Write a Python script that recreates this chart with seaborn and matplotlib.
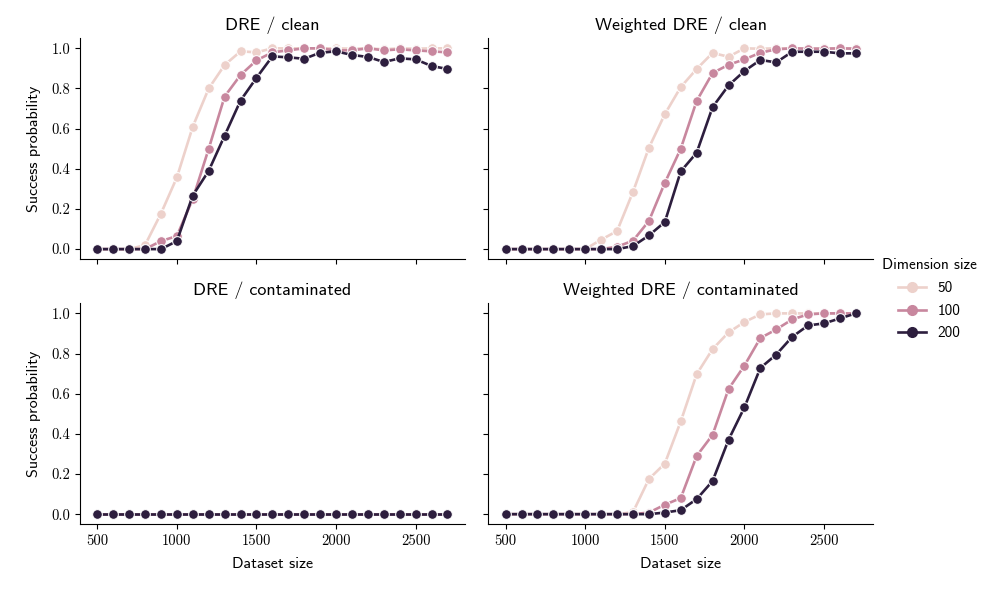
import pandas as pd
import numpy as np
import matplotlib
matplotlib.use('Agg')
import matplotlib.pyplot as plt
import seaborn as sns

# Dataset sizes (x axis)
dataset_sizes = list(range(500, 2800, 100))
dims = [50, 100, 200]

# Success probabilities
dre_clean_50 = [0, 0, 0, 0.02, 0.177, 0.357, 0.61, 0.80, 0.917, 0.985, 0.98, 1.0,
                1.0, 1.0, 1.0, 1.0, 0.998, 1.0, 0.995, 1.0, 0.998, 1.0, 1.0]
dre_clean_100 = [0, 0, 0, 0, 0.04, 0.065, 0.25, 0.50, 0.76, 0.867, 0.94, 0.98,
                 0.99, 1.0, 1.0, 0.99, 0.99, 1.0, 0.99, 0.995, 0.99, 0.985, 0.98]
dre_clean_200 = [0, 0, 0, 0, 0, 0.04, 0.267, 0.39, 0.565, 0.74, 0.853, 0.96,
                 0.955, 0.948, 0.978, 0.985, 0.967, 0.957, 0.932, 0.95, 0.945, 0.912, 0.897]

wdre_clean_50 = [0, 0, 0, 0, 0, 0, 0.047, 0.09, 0.285, 0.505, 0.672, 0.807,
                 0.897, 0.977, 0.958, 1.0, 0.998, 1.0, 1.0, 1.0, 1.0, 1.0, 1.0]
wdre_clean_100 = [0, 0, 0, 0, 0, 0, 0, 0.012, 0.042, 0.14, 0.33, 0.50,
                  0.738, 0.877, 0.918, 0.945, 0.978, 0.995, 1.0, 0.998, 0.998, 1.0, 0.998]
wdre_clean_200 = [0, 0, 0, 0, 0, 0, 0, 0, 0.015, 0.068, 0.135, 0.387,
                  0.48, 0.707, 0.815, 0.887, 0.942, 0.93, 0.983, 0.983, 0.983, 0.975, 0.975]

dre_cont_50 = [0] * 23
dre_cont_100 = [0] * 23
dre_cont_200 = [0] * 23

wdre_cont_50 = [0, 0, 0, 0, 0, 0, 0, 0, 0.01, 0.175, 0.252, 0.462,
                0.697, 0.822, 0.905, 0.957, 0.995, 1.0, 1.0, 1.0, 1.0, 1.0, 1.0]
wdre_cont_100 = [0, 0, 0, 0, 0, 0, 0, 0, 0, 0.008, 0.047, 0.08,
                 0.29, 0.395, 0.623, 0.74, 0.877, 0.92, 0.97, 0.995, 1.0, 1.0, 1.0]
wdre_cont_200 = [0, 0, 0, 0, 0, 0, 0, 0, 0, 0, 0.008, 0.02,
                 0.075, 0.165, 0.37, 0.532, 0.728, 0.795, 0.883, 0.94, 0.95, 0.975, 1.0]

results = {
    ('DRE', 'clean'): [dre_clean_50, dre_clean_100, dre_clean_200],
    ('Weighted DRE', 'clean'): [wdre_clean_50, wdre_clean_100, wdre_clean_200],
    ('DRE', 'contaminated'): [dre_cont_50, dre_cont_100, dre_cont_200],
    ('Weighted DRE', 'contaminated'): [wdre_cont_50, wdre_cont_100, wdre_cont_200],
}

# Build long dataframe
rows = []
for (method, cond), series in results.items():
    for d, vals in zip(dims, series):
        for n, p in zip(dataset_sizes, vals):
            rows.append({'Method': method, 'Data': cond, 'Dimension size': d,
                         'Dataset size': n, 'Success probability': p})
df = pd.DataFrame(rows)

plt.rcParams['font.family'] = 'cmss10'
plt.rcParams['axes.unicode_minus'] = False
plt.rcParams['axes.labelpad'] = 7

g = sns.relplot(data=df, x='Dataset size', y='Success probability',
                hue='Dimension size', col='Method', row='Data',
                col_order=['DRE', 'Weighted DRE'], row_order=['clean', 'contaminated'],
                kind='line', marker='o', markersize=7, linewidth=1.9,
                legend='full', height=2.5, aspect=1.6)
g.set_titles('{col_name} / {row_name}', size=13)
g.figure.set_size_inches(9.97, 5.89)
g.figure.subplots_adjust(left=0.08, right=0.876, top=0.935, bottom=0.11,
                         wspace=0.06, hspace=0.2)

for ax in g.axes.flat:
    ax.set_xticks([500, 1000, 1500, 2000, 2500])
    ax.set_yticks([0, 0.2, 0.4, 0.6, 0.8, 1.0])
    for lab in ax.get_xticklabels() + ax.get_yticklabels():
        lab.set_fontfamily('cmr10')
        lab.set_fontsize(10.5)
    ax.xaxis.label.set_size(11.5)
    ax.yaxis.label.set_size(11.5)

sns.move_legend(g, 'center left', bbox_to_anchor=(0.872, 0.492), frameon=False,
                title='Dimension size', labelspacing=0.62)
plt.setp(g.legend.get_texts(), fontsize=11)
g.legend.get_title().set_fontsize(11)

g.figure.savefig('out.png', dpi=100)
